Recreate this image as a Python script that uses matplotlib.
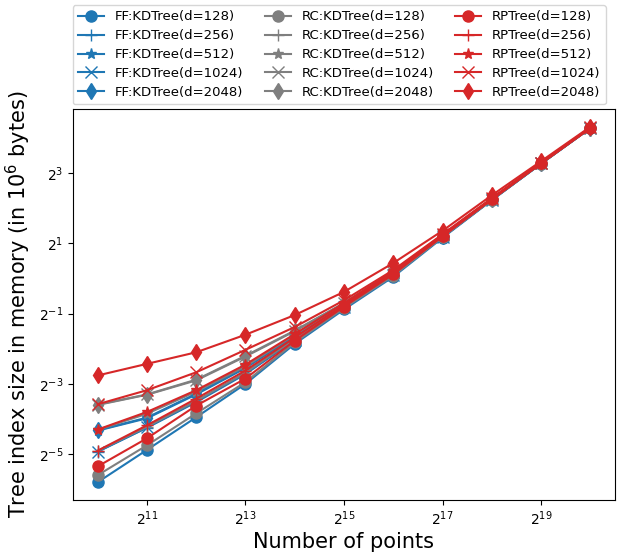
import numpy as np
import matplotlib
matplotlib.use('Agg')
import matplotlib.pyplot as plt
from matplotlib.ticker import NullLocator

# number of points (as powers of two)
n_exp = [10, 11, 12, 13, 14, 15, 16, 17, 18, 19, 20]
dims = [128, 256, 512, 1024, 2048]

# tree index size as log2 of MB
ff_log2 = {
    128:  [-5.80, -4.88, -3.95, -3.00, -1.86, -0.88, 0.05, 1.16, 2.23, 3.27, 4.28],
    256:  [-4.93, -4.25, -3.52, -2.72, -1.75, -0.82, 0.10, 1.18, 2.24, 3.27, 4.28],
    512:  [-4.33, -3.98, -3.30, -2.55, -1.64, -0.76, 0.14, 1.20, 2.25, 3.28, 4.29],
    1024: [-4.93, -4.24, -3.50, -2.70, -1.74, -0.80, 0.11, 1.19, 2.24, 3.28, 4.29],
    2048: [-4.32, -3.96, -3.28, -2.52, -1.62, -0.74, 0.16, 1.21, 2.25, 3.28, 4.29],
}
rc_log2 = {
    128:  [-5.60, -4.75, -3.84, -2.95, -1.82, -0.84, 0.08, 1.18, 2.24, 3.27, 4.28],
    256:  [-4.91, -4.22, -3.48, -2.68, -1.72, -0.78, 0.12, 1.19, 2.25, 3.28, 4.29],
    512:  [-4.31, -3.85, -3.22, -2.50, -1.60, -0.72, 0.16, 1.21, 2.26, 3.28, 4.29],
    1024: [-3.59, -3.30, -2.88, -2.20, -1.48, -0.70, 0.19, 1.23, 2.27, 3.29, 4.29],
    2048: [-3.60, -3.31, -2.90, -2.22, -1.50, -0.70, 0.20, 1.24, 2.27, 3.29, 4.29],
}
rp_log2 = {
    128:  [-5.35, -4.55, -3.62, -2.85, -1.77, -0.80, 0.12, 1.20, 2.25, 3.28, 4.28],
    256:  [-4.90, -4.18, -3.42, -2.62, -1.68, -0.75, 0.16, 1.22, 2.26, 3.28, 4.29],
    512:  [-4.30, -3.80, -3.18, -2.45, -1.58, -0.70, 0.20, 1.24, 2.27, 3.29, 4.29],
    1024: [-3.58, -3.18, -2.67, -2.03, -1.38, -0.62, 0.24, 1.26, 2.29, 3.30, 4.30],
    2048: [-2.76, -2.43, -2.10, -1.60, -1.04, -0.38, 0.44, 1.36, 2.37, 3.34, 4.32],
}

markers = {128: 'o', 256: '+', 512: '*', 1024: 'x', 2048: 'd'}

x = 2.0 ** np.array(n_exp)

fig = plt.figure(figsize=(6.22, 5.52), dpi=100)
ax = fig.add_axes([0.1174, 0.0942, 0.8713, 0.7083])

groups = [('FF:KDTree', ff_log2, 'tab:blue'),
          ('RC:KDTree', rc_log2, 'tab:gray'),
          ('RPTree', rp_log2, 'tab:red')]

for name, data, col in groups:
    for d in dims:
        ax.plot(x, 2.0 ** np.array(data[d]), marker=markers[d], color=col,
                markersize=8, linewidth=1.5, label=f'{name}(d={d})')

ax.set_xscale('log', base=2)
ax.set_yscale('log', base=2)
ax.set_xticks(2.0 ** np.arange(11, 20, 2))
ax.set_yticks(2.0 ** np.arange(-5, 4, 2))
ax.xaxis.set_minor_locator(NullLocator())
ax.yaxis.set_minor_locator(NullLocator())
ax.tick_params(labelsize=10)

ax.set_xlabel('Number of points', fontsize=15, labelpad=3)
ax.set_ylabel('Tree index size in memory (in $10^6$ bytes)', fontsize=15)

ax.legend(ncol=3, fontsize=9.5, loc='upper left', labelspacing=0.45,
          columnspacing=1.6,
          bbox_to_anchor=(0.117, 0.991), bbox_transform=fig.transFigure,
          borderaxespad=0)

fig.savefig('out.png', dpi=100)
